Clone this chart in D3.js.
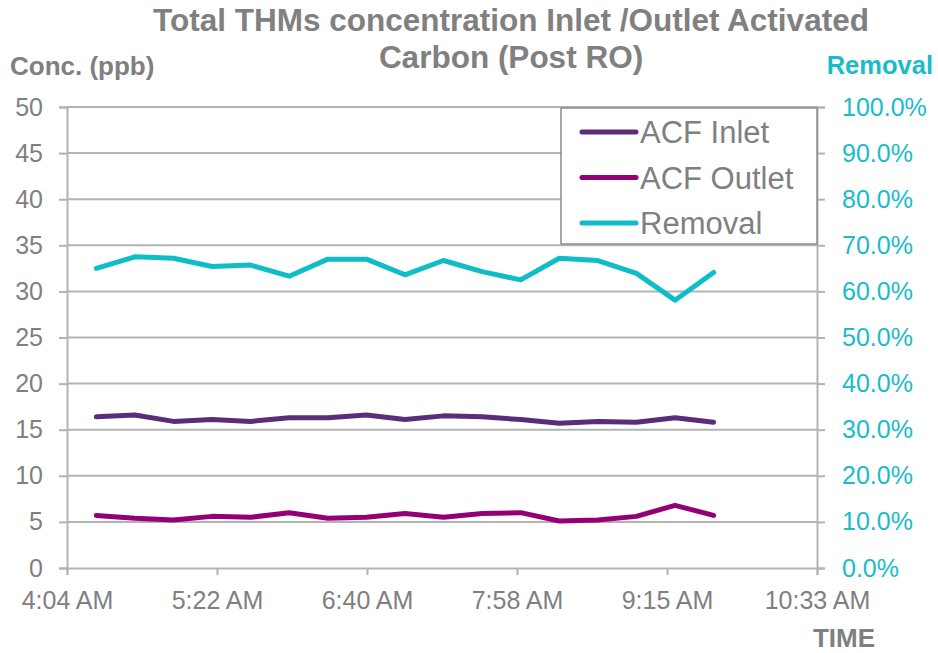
<!DOCTYPE html>
<html>
<head>
<meta charset="utf-8">
<script src="https://cdn.jsdelivr.net/npm/d3@7"></script>
<style>
  body { margin: 0; background: #fff; }
  svg { font-family: "Liberation Sans", Arial, sans-serif; }
</style>
</head>
<body>
<div id="chart"></div>
<script>
// Sample times (20 min apart)
const times = ["4:20", "4:40", "5:00", "5:20", "5:40", "6:00", "6:20", "6:40", "7:00",
  "7:20", "7:40", "8:00", "8:20", "8:40", "9:00", "9:20", "9:40"];

const inlet = [16.4, 16.6, 15.9, 16.1, 15.9, 16.3, 16.3, 16.6, 16.1,
  16.5, 16.4, 16.1, 15.7, 15.9, 15.8, 16.3, 15.8];
const outlet = [5.7, 5.4, 5.2, 5.6, 5.5, 6.0, 5.4, 5.5, 5.9,
  5.5, 5.9, 6.0, 5.1, 5.2, 5.6, 6.8, 5.7];
const removal = [65.0, 67.5, 67.2, 65.4, 65.7, 63.3, 67.0, 67.0, 63.6,
  66.7, 64.3, 62.5, 67.2, 66.7, 63.9, 58.1, 64.1];

// axis settings in Excel day fractions
const xMin = 0.17, xMax = 0.44, xStep = 0.054;
const yTicks = d3.range(0, 51, 5);
const pctTicks = d3.range(0, 101, 10);

const seriesNames = ["ACF Inlet", "ACF Outlet", "Removal"];
const colors = ["#5b2c79", "#930076", "#0fbdc6"];

const W = 938, H = 653;
const margin = { top: 107, right: 121, bottom: 85, left: 67 };
const width = W - margin.left - margin.right;
const height = H - margin.top - margin.bottom;

const toMin = t => { const p = t.split(":"); return +p[0] * 60 + +p[1]; };

const svg = d3.select("#chart").append("svg")
  .attr("width", W).attr("height", H);

const g = svg.append("g")
  .attr("transform", `translate(${margin.left},${margin.top})`);

const x = d3.scaleLinear().domain([xMin * 1440, xMax * 1440]).range([0, width]);
const y = d3.scaleLinear().domain([0, 50]).range([height, 0]);
const y2 = d3.scaleLinear().domain([0, 100]).range([height, 0]);

const grey = "#808080";
const axisGrey = "#b3b3b3";
const teal = "#19bcc8";

// gridlines
g.selectAll(".grid").data(yTicks.slice(1)).enter().append("line")
  .attr("x1", 0).attr("x2", width)
  .attr("y1", d => y(d)).attr("y2", d => y(d))
  .attr("stroke", axisGrey).attr("stroke-width", 2);

function fmtTime(m) {
  m = Math.floor(m + 1e-6);
  let h = Math.floor(m / 60), mm = m % 60;
  const ap = h >= 12 ? "PM" : "AM";
  h = h % 12 || 12;
  return `${h}:${String(mm).padStart(2, "0")} ${ap}`;
}

// left axis
const yAxis = g.append("g")
  .call(d3.axisLeft(y).tickValues(yTicks).tickSize(8).tickPadding(16).tickFormat(d3.format("d")));
// right axis
const y2Axis = g.append("g").attr("transform", `translate(${width},0)`)
  .call(d3.axisRight(y2).tickValues(pctTicks).tickSize(8).tickPadding(17)
    .tickFormat(d => d.toFixed(1) + "%"));
// bottom axis
const xTickVals = d3.range(0, 6).map(i => (xMin + i * xStep) * 1440);
const xAxis = g.append("g").attr("transform", `translate(0,${height})`)
  .call(d3.axisBottom(x).tickValues(xTickVals).tickSize(7).tickPadding(16).tickFormat(fmtTime));

[yAxis, y2Axis, xAxis].forEach(a => {
  a.selectAll("path.domain").attr("stroke", axisGrey).attr("stroke-width", 2);
  a.selectAll(".tick line").attr("stroke", axisGrey).attr("stroke-width", 2);
  a.selectAll("text").attr("font-size", 25).attr("fill", grey)
    .attr("font-family", "Liberation Sans, Arial, sans-serif");
});
y2Axis.selectAll("text").attr("fill", teal);

// lines
const line = scale => d3.line()
  .x((d, i) => x(toMin(times[i])))
  .y(d => scale(d));

const data = [
  { vals: inlet, sc: y },
  { vals: outlet, sc: y },
  { vals: removal, sc: y2 }
];
g.selectAll(".series").data(data).enter().append("path")
  .attr("fill", "none")
  .attr("stroke", (d, i) => colors[i])
  .attr("stroke-width", 5)
  .attr("stroke-linejoin", "round")
  .attr("stroke-linecap", "round")
  .attr("d", d => line(d.sc)(d.vals));

// legend
const lg = svg.append("g").attr("transform", "translate(561,108)");
lg.append("rect").attr("width", 256).attr("height", 136)
  .attr("fill", "#fff").attr("stroke", "#8c8c8c").attr("stroke-width", 1.5);
seriesNames.forEach((n, i) => {
  const yy = 24 + i * 45.5;
  lg.append("line").attr("x1", 21).attr("x2", 75).attr("y1", yy).attr("y2", yy)
    .attr("stroke", colors[i]).attr("stroke-width", 5).attr("stroke-linecap", "round");
  lg.append("text").attr("x", 79).attr("y", yy).attr("dy", "0.36em")
    .attr("font-size", 31).attr("fill", grey).text(n);
});

// titles
const title = svg.append("text").attr("text-anchor", "middle")
  .attr("font-size", 31.5).attr("font-weight", "bold").attr("fill", grey);
title.append("tspan").attr("x", 511).attr("y", 31).text("Total THMs concentration Inlet /Outlet Activated");
title.append("tspan").attr("x", 511).attr("y", 68).text("Carbon (Post RO)");

svg.append("text").attr("x", 10).attr("y", 75).attr("font-size", 26)
  .attr("font-weight", "bold").attr("fill", grey).text("Conc. (ppb)");
svg.append("text").attr("x", 933).attr("y", 74).attr("text-anchor", "end").attr("font-size", 25.5)
  .attr("font-weight", "bold").attr("fill", teal).text("Removal");
svg.append("text").attr("x", 875).attr("y", 647).attr("text-anchor", "end").attr("font-size", 26)
  .attr("font-weight", "bold").attr("fill", grey).text("TIME");
</script>
</body>
</html>
